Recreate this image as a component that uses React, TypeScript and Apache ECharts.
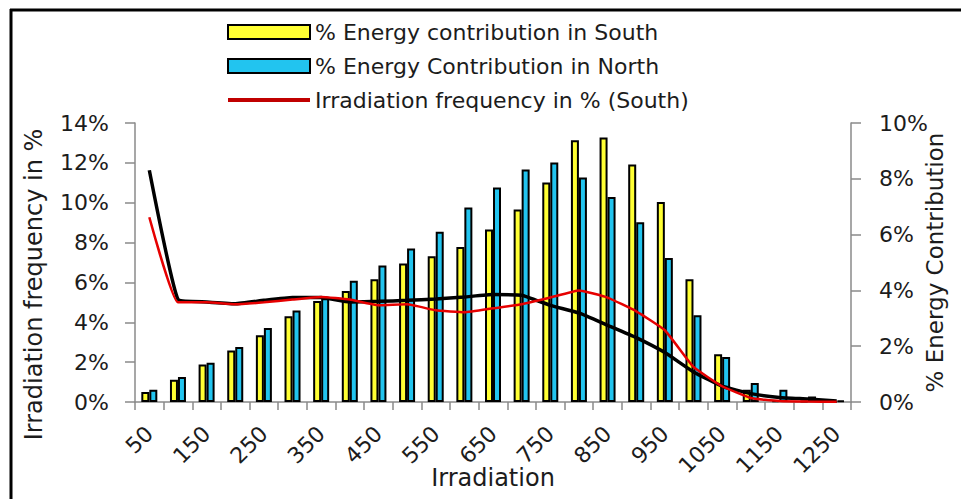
import React, { useEffect, useRef } from "react";
import * as echarts from "echarts";

const categories = ["50","100","150","200","250","300","350","400","450","500","550","600","650","700","750","800","850","900","950","1000","1050","1100","1150","1200","1250"];
const energySouth = [0.36,0.80,1.34,1.85,2.39,3.07,3.62,3.98,4.40,4.96,5.22,5.56,6.18,6.90,7.87,9.38,9.48,8.51,7.17,4.40,1.71,0.44,0.06,0.03,0.01];
const energyNorth = [0.44,0.90,1.41,1.97,2.65,3.28,3.72,4.35,4.89,5.50,6.10,6.97,7.69,8.33,8.58,8.05,7.35,6.44,5.16,3.11,1.61,0.68,0.44,0.20,0.05];
const freqSouth = [9.27,5.0,5.0,4.9,5.0,5.14,5.27,5.14,4.85,4.9,4.6,4.5,4.7,4.9,5.24,5.6,5.24,4.55,3.6,1.76,0.79,0.2,0.05,0.02,0.01];
const freqNorth = [11.63,5.15,5.02,4.93,5.1,5.24,5.24,5.02,5.05,5.1,5.17,5.27,5.39,5.36,4.85,4.47,3.85,3.23,2.48,1.51,0.79,0.42,0.23,0.15,0.05];

const nameSouth = "% Energy contribution in South";
const nameNorth = "% Energy Contribution in North";
const nameFreqS = "Irradiation frequency in % (South)";
const nameFreqN = "Irradiation frequency in % (North)";

const FONT = "DejaVu Sans";
const AXIS_GRAY = "#8a8a8a";
const TEXT = "#1c1c1c";

export default function App() {
  const ref = useRef<HTMLDivElement>(null);
  useEffect(() => {
    if (!ref.current) return;
    const chart = echarts.init(ref.current, null, { renderer: "svg" });
    chart.setOption({
      animation: false,
      backgroundColor: "#ffffff",
      grid: { left: 135, right: 110, top: 123, bottom: 97 },
      legend: {
        orient: "vertical",
        left: 227,
        top: 21,
        padding: 0,
        itemWidth: 82,
        itemHeight: 14,
        itemGap: 12,
        textStyle: { fontSize: 22, fontFamily: FONT, color: TEXT },
        data: [
          { name: nameSouth, icon: "rect", itemStyle: { color: "#ffff33", borderColor: "#000", borderWidth: 2 } },
          { name: nameNorth, icon: "rect", itemStyle: { color: "#22c4ef", borderColor: "#000", borderWidth: 2 } },
          { name: nameFreqS, icon: "path://M0,0H100V5H0Z", itemStyle: { color: "#c00000", borderWidth: 0 } },
        ],
      },
      xAxis: {
        type: "category",
        data: categories,
        name: "Irradiation",
        nameLocation: "middle",
        nameGap: 64,
        nameMoveOverlap: false,
        nameTextStyle: { fontSize: 24, fontFamily: FONT, color: TEXT },
        axisLine: { lineStyle: { color: AXIS_GRAY, width: 1.5 } },
        axisTick: { show: true, interval: 0, length: 8, lineStyle: { color: AXIS_GRAY, width: 1.5 } },
        axisLabel: { interval: 1, rotate: 45, margin: 28, fontSize: 22, fontFamily: FONT, color: TEXT },
        splitLine: { show: false },
      },
      yAxis: [
        {
          type: "value",
          min: 0,
          max: 14,
          interval: 2,
          name: "Irradiation frequency in %",
          nameLocation: "middle",
          nameGap: 89,
          nameMoveOverlap: false,
          nameTextStyle: { fontSize: 24, fontFamily: FONT, color: TEXT, padding: [0, 44, 0, 0] },
          axisLine: { show: true, lineStyle: { color: AXIS_GRAY, width: 1.5 } },
          axisTick: { show: true, length: 10, lineStyle: { color: AXIS_GRAY, width: 1.5 } },
          axisLabel: { formatter: "{value}%", margin: 26, fontSize: 22, fontFamily: FONT, color: TEXT },
          splitLine: { show: false },
        },
        {
          type: "value",
          min: 0,
          max: 10,
          interval: 2,
          position: "right",
          name: "% Energy Contribution",
          nameLocation: "middle",
          nameGap: 72,
          nameRotate: 90,
          nameMoveOverlap: false,
          nameTextStyle: { fontSize: 23, fontFamily: FONT, color: TEXT },
          axisLine: { show: true, lineStyle: { color: AXIS_GRAY, width: 1.5 } },
          axisTick: { show: true, length: 10, lineStyle: { color: AXIS_GRAY, width: 1.5 } },
          axisLabel: { formatter: "{value}%", margin: 28, fontSize: 22, fontFamily: FONT, color: TEXT },
          splitLine: { show: false },
        },
      ],
      series: [
        {
          name: nameSouth,
          type: "bar",
          yAxisIndex: 1,
          data: energySouth,
          barWidth: 8,
          barGap: "0%",
          itemStyle: { color: "#ffff33", borderColor: "#000", borderWidth: 2 },
        },
        {
          name: nameNorth,
          type: "bar",
          yAxisIndex: 1,
          data: energyNorth,
          barWidth: 8,
          barGap: "0%",
          itemStyle: { color: "#22c4ef", borderColor: "#000", borderWidth: 2 },
        },
        {
          name: nameFreqN,
          type: "line",
          yAxisIndex: 0,
          data: freqNorth,
          symbol: "none",
          smooth: 0.12,
          z: 3,
          lineStyle: { color: "#000000", width: 3.5 },
          itemStyle: { color: "#000000" },
        },
        {
          name: nameFreqS,
          type: "line",
          yAxisIndex: 0,
          data: freqSouth,
          symbol: "none",
          smooth: 0.12,
          z: 4,
          lineStyle: { color: "#e60000", width: 2.5 },
          itemStyle: { color: "#e60000" },
        },
      ],
      graphic: [
        { type: "line", shape: { x1: 11, y1: 9, x2: 11, y2: 499 }, style: { stroke: "#000", lineWidth: 3 } },
        { type: "line", shape: { x1: 10, y1: 10, x2: 961, y2: 10 }, style: { stroke: "#000", lineWidth: 3 } },
      ],
    });
    return () => chart.dispose();
  }, []);
  return <div ref={ref} style={{ position: "fixed", left: 0, top: 0, width: 961, height: 499 }} />;
}
